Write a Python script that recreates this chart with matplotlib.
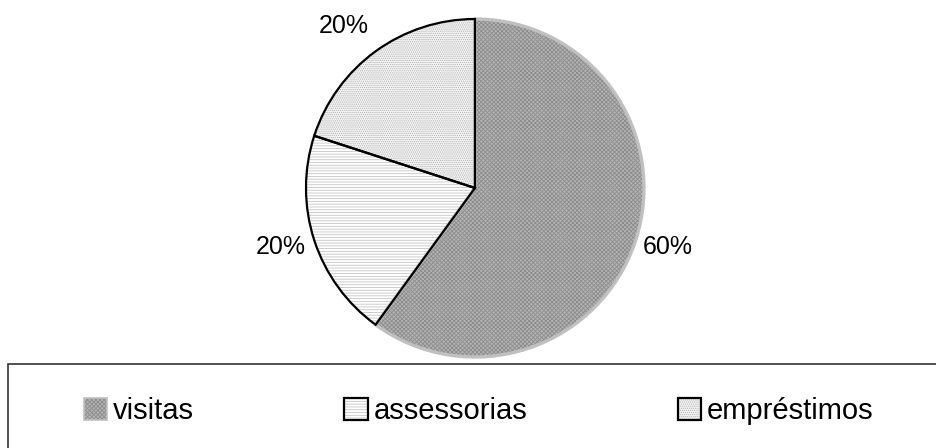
import matplotlib
matplotlib.use("Agg")
import numpy as np
import matplotlib.pyplot as plt
from matplotlib.patches import Patch, Rectangle
from matplotlib.legend_handler import HandlerTuple

plt.rcParams['font.family'] = ['Liberation Sans', 'DejaVu Sans']
plt.rcParams['hatch.linewidth'] = 0.6

# Data
categories = ["visitas", "assessorias", "empréstimos"]
shares = [60, 20, 20]

# Styles per slice
face_colors = ["#b4b4b4", "#ffffff", "#f4f4f4"]
hatch_colors = ["#8c8c8c", "#c4c4c4", "#b4b4b4"]
hatches = ["xxxxxxxx", "------", "........"]
edge_colors = ["#c0c0c0", "black", "black"]
edge_widths = [2.4, 1.6, 1.6]
# label placement tweaks (degrees off the wedge middle, radius factor)
label_shift = [1.0, -1.0, 3.0]
label_dist = [1.19, 1.20, 1.23]

fig = plt.figure(figsize=(9.36, 4.48), dpi=100)

# Pie axes (centre and radius set by the axes box)
ax = fig.add_axes([0.3269, 0.2031, 0.3611, 0.7545])

# fill + hatch layer
wedges, texts, autotexts = ax.pie(
    shares, startangle=90, counterclock=False,
    autopct="%1.0f%%", pctdistance=1.2,
    textprops={"fontsize": 18, "color": "black"},
)
for w, fc, hc, h in zip(wedges, face_colors, hatch_colors, hatches):
    w.set_facecolor(fc)
    w.set_edgecolor(hc)
    w.set_hatch(h)
    w.set_linewidth(0)

for w, t, da, d in zip(wedges, autotexts, label_shift, label_dist):
    mid = np.deg2rad((w.theta1 + w.theta2) / 2 + da)
    t.set_position((d * np.cos(mid), d * np.sin(mid)))

# outline layer (visitas first so black edges sit on top)
outline, _ = ax.pie(shares, startangle=90, counterclock=False)
for w, ec, lw in zip(outline, edge_colors, edge_widths):
    w.set_facecolor("none")
    w.set_edgecolor(ec)
    w.set_linewidth(lw)
outline[0].set_zorder(2)
outline[1].set_zorder(3)
outline[2].set_zorder(3)

ax.set_xlim(-1, 1)
ax.set_ylim(-1, 1)
ax.set_aspect("equal")
ax.axis("off")

# Legend box (runs off the right and bottom of the image)
box = Rectangle((8 / 936, -0.1), 1.2, 1 - 364 / 448 + 0.1,
                transform=fig.transFigure, facecolor="none",
                edgecolor="#333333", linewidth=1.2)
fig.patches.append(box)

# legend keys: hatched fill + separate outline so hatch keeps its grey
handles = []
for fc, hc, h, ec in zip(face_colors, hatch_colors, hatches, edge_colors):
    fill = Patch(facecolor=fc, edgecolor=hc, hatch=h, linewidth=0)
    edge = Patch(facecolor="none", edgecolor=ec,
                 linewidth=1.6 if ec == "black" else 1.2)
    handles.append((fill, edge))

fig.legend(handles, categories, loc="center left",
           bbox_to_anchor=(84 / 936, 1 - 411 / 448),
           ncol=3, frameon=False, fontsize=21,
           borderpad=0, borderaxespad=0,
           handlelength=0.8, handleheight=0.8, handletextpad=0.2,
           columnspacing=5.15,
           handler_map={tuple: HandlerTuple(ndivide=1, pad=0)})

fig.savefig("out.png", dpi=100)
